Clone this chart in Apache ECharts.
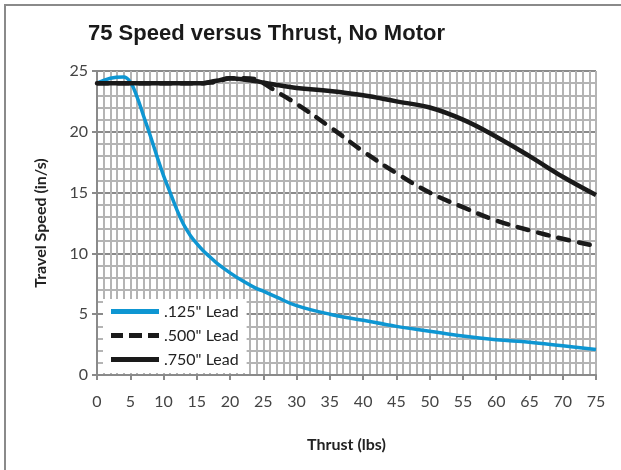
<!DOCTYPE html>
<html><head><meta charset="utf-8">
<script src="https://cdn.jsdelivr.net/npm/echarts@6/dist/echarts.min.js"></script>
<style>
html,body{margin:0;padding:0;background:#fff;}
#frame{position:absolute;left:4px;top:4px;width:640px;height:480px;border-left:2px solid #8a8a8a;border-top:2px solid #8a8a8a;}
#c{position:absolute;left:0;top:0;width:621px;height:470px;}
</style></head>
<body>
<div id="frame"></div>
<div id="c"></div>
<script>
const thrust = [0,2,4,5,6,7,8,9,10,11,12,13,14,15,16,17,18,20,22,24,25,27,30,35,40,45,50,55,60,65,70,75];
const lead125 = [24.0,24.4,24.5,24.1,22.9,21.3,19.7,18.0,16.4,15.0,13.6,12.4,11.5,10.8,10.2,9.7,9.2,8.4,7.7,7.1,6.9,6.4,5.7,5.0,4.5,4.0,3.6,3.2,2.9,2.7,2.4,2.1];
const lead500 = [24.0,24.0,24.0,24.0,24.0,24.0,24.0,24.0,24.0,24.0,24.0,24.0,24.0,24.0,24.0,24.05,24.1,24.4,24.4,24.3,24.0,23.3,22.3,20.4,18.4,16.6,15.0,13.8,12.7,11.9,11.2,10.6];
const lead750 = [24.0,24.0,24.0,24.0,24.0,24.0,24.0,24.0,24.0,24.0,24.0,24.0,24.0,24.0,24.0,24.1,24.2,24.4,24.3,24.15,24.05,23.85,23.6,23.35,23.0,22.5,22.0,21.0,19.6,18.0,16.3,14.8];
const seriesNames = ['.125" Lead', '.500" Lead', '.750" Lead'];
const xTicks = [0,5,10,15,20,25,30,35,40,45,50,55,60,65,70,75];
const yTicks = [0,5,10,15,20,25];

const pair = (vals) => thrust.map((t,i)=>[t, vals[i]]);
const font = 'Lato, "Open Sans", sans-serif';
const solidIcon = 'path://M0,0H48V5H0Z';
const dashIcon = 'path://M0,0H12V5H0Z M18,0H31V5H18Z M37,0H48V5H37Z';
const chart = echarts.init(document.getElementById('c'), null, {renderer:'canvas'});
chart.setOption({
  animation:false,
  title:{text:'75 Speed versus Thrust, No Motor', left:83, top:18,
    textStyle:{fontFamily:'"Liberation Sans", Arial, sans-serif', fontWeight:'bold', fontSize:22, color:'#1a1a1a'}},
  grid:{left:97, top:71, width:499, height:304},
  legend:{orient:'vertical', left:103, top:299, itemWidth:48, itemHeight:5, itemGap:7,
    backgroundColor:'#fff', padding:[4,8,5,8],
    textStyle:{fontFamily:font, fontSize:16, color:'#222', lineHeight:17},
    data:[{name:seriesNames[0], icon:solidIcon},{name:seriesNames[1], icon:dashIcon},{name:seriesNames[2], icon:solidIcon}]},
  xAxis:{type:'value', min:0, max:75, interval:5,
    name:'Thrust (lbs)', nameLocation:'middle', nameGap:62,
    nameTextStyle:{fontFamily:font, fontWeight:'bold', fontSize:16, color:'#222'},
    axisLine:{lineStyle:{color:'#8a8a8a', width:2}},
    axisTick:{show:true, length:5, lineStyle:{color:'#8a8a8a', width:2}},
    axisLabel:{fontFamily:font, fontSize:16, color:'#444', margin:19,
      formatter:(v)=> xTicks.includes(v)? String(v):''},
    minorTick:{show:false, splitNumber:5},
    splitLine:{show:true, lineStyle:{color:'#b4b4b4', width:2}},
    minorSplitLine:{show:true, lineStyle:{color:'#b4b4b4', width:2}}},
  yAxis:{type:'value', min:0, max:25, interval:5,
    name:'Travel Speed (in/s)', nameLocation:'middle', nameGap:48,
    nameTextStyle:{fontFamily:font, fontWeight:'bold', fontSize:16, color:'#222'},
    axisLine:{show:true, lineStyle:{color:'#8a8a8a', width:2}},
    axisTick:{show:true, length:5, lineStyle:{color:'#8a8a8a', width:2}},
    axisLabel:{fontFamily:font, fontSize:16, color:'#444', margin:9,
      formatter:(v)=> yTicks.includes(v)? String(v):''},
    minorTick:{show:false, splitNumber:5},
    splitLine:{show:true, lineStyle:{color:'#8a8a8a', width:2}},
    minorSplitLine:{show:true, lineStyle:{color:'#b4b4b4', width:2}}},
  series:[
    {name:seriesNames[0], type:'line', data:pair(lead125), smooth:0.4, symbol:'none', z:3,
      itemStyle:{color:'#0e96d2'}, lineStyle:{color:'#0e96d2', width:3.5}},
    {name:seriesNames[1], type:'line', data:pair(lead500), smooth:0.4, symbol:'none', z:4,
      itemStyle:{color:'#1a1a1a'}, lineStyle:{color:'#1a1a1a', width:4.5, type:[11,10], cap:'round'}},
    {name:seriesNames[2], type:'line', data:pair(lead750), smooth:0.4, symbol:'none', z:4,
      itemStyle:{color:'#1a1a1a'}, lineStyle:{color:'#1a1a1a', width:4.5}}
  ]
});
</script>
</body></html>
